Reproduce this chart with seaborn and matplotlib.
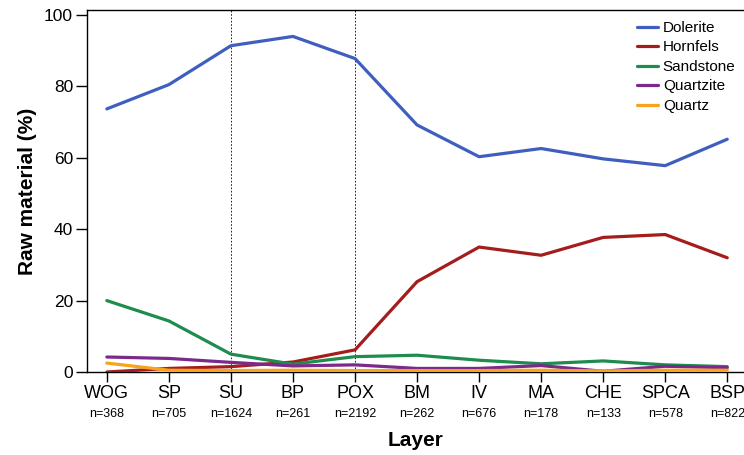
import pandas as pd
import seaborn as sns
import matplotlib.pyplot as plt
from matplotlib.transforms import blended_transform_factory

layers = ["WOG", "SP", "SU", "BP", "POX", "BM", "IV", "MA", "CHE", "SPCA", "BSP"]
counts = [368, 705, 1624, 261, 2192, 262, 676, 178, 133, 578, 822]

dolerite = [73.7, 80.5, 91.4, 94.0, 87.8, 69.2, 60.3, 62.6, 59.7, 57.8, 65.2]
hornfels = [0.0, 1.0, 1.5, 2.8, 6.2, 25.3, 35.0, 32.7, 37.7, 38.5, 32.0]
sandstone = [20.0, 14.3, 5.0, 2.2, 4.3, 4.7, 3.3, 2.3, 3.1, 2.0, 1.5]
quartzite = [4.2, 3.8, 2.7, 1.7, 2.0, 1.0, 1.0, 1.8, 0.2, 1.6, 1.2]
quartz = [2.5, 0.5, 0.4, 0.5, 0.4, 0.4, 0.4, 0.5, 0.3, 0.5, 0.5]

materials = ["Dolerite", "Hornfels", "Sandstone", "Quartzite", "Quartz"]
colors = ["#3F5FBF", "#A51C1C", "#1E8C4E", "#7B2A8C", "#F8A31C"]

df = pd.DataFrame({"Dolerite": dolerite, "Hornfels": hornfels, "Sandstone": sandstone,
                   "Quartzite": quartzite, "Quartz": quartz})
df["pos"] = range(len(layers))
long_df = df.melt(id_vars="pos", var_name="Material", value_name="Percent")

sns.set_style("ticks")
plt.rcParams["font.family"] = ["Liberation Sans", "DejaVu Sans"]
plt.rcParams["text.color"] = "black"
plt.rcParams["axes.labelcolor"] = "black"
plt.rcParams["xtick.color"] = "black"
plt.rcParams["ytick.color"] = "black"

fig = plt.figure(figsize=(7.44, 4.55), dpi=100)
ax = fig.add_axes([87 / 744, 1 - 372 / 455, 1 - 87 / 744, (372 - 10) / 455])

# dotted separators first so the lines sit above them
for x in [2, 4]:
    ax.axvline(x, color="black", linestyle=(0, (2, 2)), linewidth=0.6, zorder=1)

sns.lineplot(data=long_df, x="pos", y="Percent", hue="Material", hue_order=materials,
             palette=colors, linewidth=2.3, ax=ax, zorder=3)

ax.set_xlim(-0.32, 10.27)
ax.set_ylim(0, 101.4)
ax.set_yticks([0, 20, 40, 60, 80, 100])
ax.set_xticks(range(len(layers)))
ax.set_xticklabels(layers, fontsize=13)
ax.tick_params(axis="y", labelsize=12.5, length=8, pad=2)
ax.tick_params(axis="x", length=7.5, pad=2)
ax.tick_params(direction="out", width=1, color="black")

trans = blended_transform_factory(ax.transData, ax.transAxes)
for i, n in enumerate(counts):
    ax.text(i, -0.115, f"n={n}", transform=trans, ha="center", va="center", fontsize=9)

for side in ["left", "bottom", "top"]:
    ax.spines[side].set_color("black")
    ax.spines[side].set_linewidth(1)
ax.spines["right"].set_visible(False)

ax.set_xlabel("Layer", fontsize=15, fontweight="bold", labelpad=21)
ax.set_ylabel("Raw material (%)", fontsize=15, fontweight="bold", labelpad=5)

leg = ax.legend(loc="upper right", bbox_to_anchor=(1.008, 1.008), frameon=False,
                fontsize=11, handlelength=1.4, handletextpad=0.3, labelspacing=0.36)
for line in leg.get_lines():
    line.set_linewidth(2.3)

fig.savefig("out.png", dpi=100)
